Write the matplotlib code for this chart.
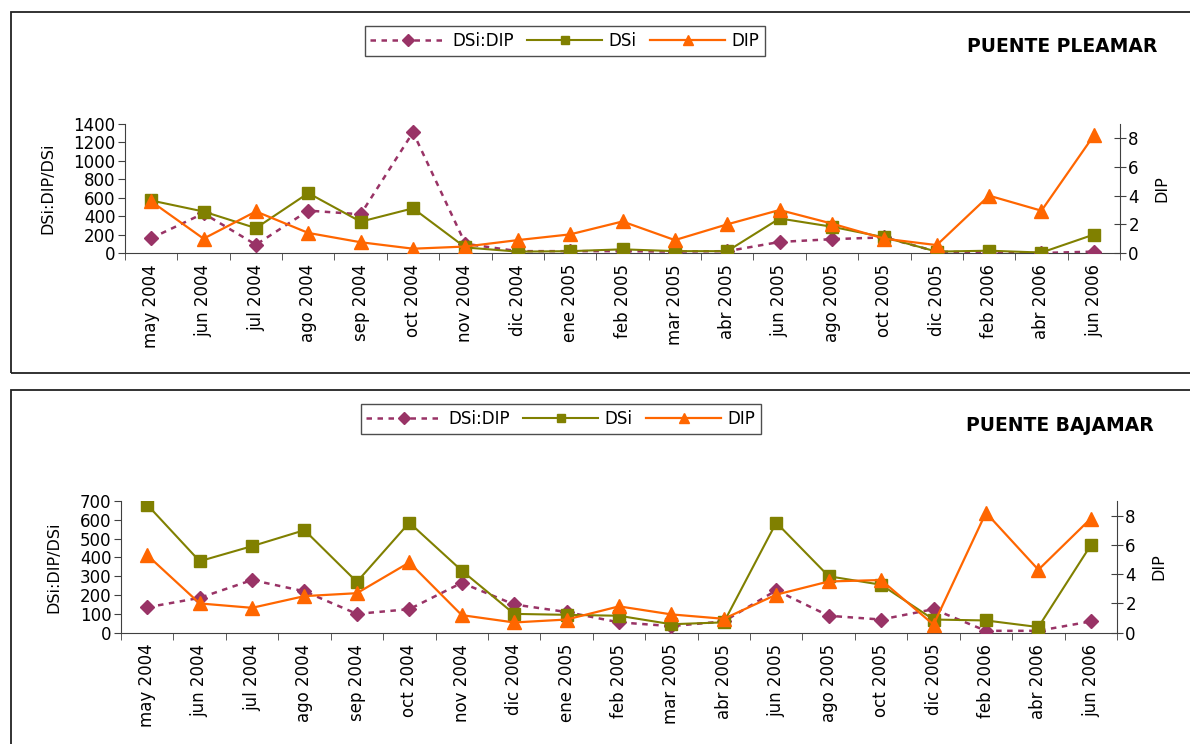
import matplotlib
matplotlib.use("Agg")
from matplotlib import pyplot as plt
from matplotlib.patches import Rectangle
from matplotlib.lines import Line2D
import numpy as np

months = ["may 2004", "jun 2004", "jul 2004", "ago 2004", "sep 2004", "oct 2004",
          "nov 2004", "dic 2004", "ene 2005", "feb 2005", "mar 2005", "abr 2005",
          "jun 2005", "ago 2005", "oct 2005", "dic 2005", "feb 2006", "abr 2006",
          "jun 2006"]

# Puente, pleamar
plea_ratio = [160, 430, 90, 460, 420, 1310, 100, 20, 20, 20, 15, 20,
              120, 150, 170, 15, 5, 0, 15]
plea_dsi = [570, 450, 270, 650, 340, 485, 60, 15, 20, 40, 20, 20,
            375, 285, 170, 15, 25, 5, 200]
plea_dip = [3.6, 1.0, 2.9, 1.4, 0.75, 0.3, 0.45, 0.9, 1.3, 2.2, 0.9, 2.0,
            3.0, 2.05, 1.0, 0.55, 4.0, 2.95, 8.2]

# Puente, bajamar
baja_ratio = [135, 185, 280, 220, 100, 125, 265, 150, 110, 55, 35, 60,
              225, 90, 70, 125, 10, 10, 60]
baja_dsi = [680, 380, 460, 545, 270, 585, 330, 100, 95, 90, 45, 55,
            585, 300, 255, 70, 65, 30, 465]
baja_dip = [5.3, 2.0, 1.7, 2.5, 2.7, 4.8, 1.2, 0.7, 0.9, 1.8, 1.25, 0.95,
            2.6, 3.5, 3.6, 0.55, 8.2, 4.3, 7.8]

PLUM = "#993366"
OLIVE = "#808000"
ORANGE = "#FF6600"
AXC = "#404040"

W, H = 1190, 744
fig = plt.figure(figsize=(W / 100, H / 100), dpi=100)


def fx(px):
    return px / W


def fy(py):
    return 1 - py / H


# panel frames
for top, bot in [(12, 373), (390, 760)]:
    fig.patches.append(Rectangle((fx(11), fy(bot)), fx(1200 - 11), fy(top) - fy(bot),
                                 transform=fig.transFigure, fill=False,
                                 edgecolor="#222222", linewidth=1.3))


def panel(box, ratio, dsi, dip, ymax, ystep, title, title_xy, legend_xy):
    left, right, top, bottom = box
    ax = fig.add_axes([fx(left), fy(bottom), fx(right - left), fy(top) - fy(bottom)])
    ax2 = ax.twinx()
    x = np.arange(len(months))

    ax.plot(x, ratio, color=PLUM, lw=1.8, dashes=(2.2, 2.2), marker="D",
            ms=7, mec=PLUM, zorder=3)
    ax.plot(x, dsi, color=OLIVE, lw=1.5, marker="s", ms=8, mec=OLIVE, zorder=4)
    ax2.plot(x, dip, color=ORANGE, lw=1.6, marker="^", ms=10, mec=ORANGE, zorder=5)

    ax.set_xlim(-0.5, len(months) - 0.5)
    ax.set_ylim(0, ymax)
    ax2.set_ylim(0, 9)
    ax.set_yticks(np.arange(0, ymax + 1, ystep))
    ax2.set_yticks([0, 2, 4, 6, 8])

    ax.set_xticks(x)
    ax.set_xticklabels(months, rotation=90, fontsize=12)
    ax.set_xticks(np.arange(-0.5, len(months)), minor=True)
    ax.tick_params(axis="x", which="major", length=0, pad=8)
    ax.tick_params(axis="x", which="minor", length=5, color=AXC, direction="out")
    ax.tick_params(axis="y", length=5, color=AXC, labelsize=12, pad=2)
    ax2.tick_params(axis="y", length=8, color=AXC, labelsize=12, direction="inout", pad=2)

    for a in (ax, ax2):
        a.spines["top"].set_visible(False)
        for s in a.spines.values():
            s.set_color(AXC)
    ax.spines["right"].set_visible(False)
    ax2.spines["left"].set_visible(False)
    ax2.spines["bottom"].set_visible(False)

    ax.set_ylabel("DSi:DIP/DSi", fontsize=11.5, labelpad=13)
    ax2.set_ylabel("DIP", fontsize=11.5, labelpad=11)

    fig.text(fx(title_xy[0]), fy(title_xy[1]), title, fontsize=13.5,
             fontweight="bold", ha="center", va="center")

    handles = [Line2D([], [], color=PLUM, lw=1.8, dashes=(2.2, 2.2), marker="D", ms=6),
               Line2D([], [], color=OLIVE, lw=1.5, marker="s", ms=6),
               Line2D([], [], color=ORANGE, lw=1.6, marker="^", ms=7)]
    leg = fig.legend(handles, ["DSi:DIP", "DSi", "DIP"], ncol=3, loc="center",
                     bbox_to_anchor=(fx(legend_xy[0]), fy(legend_xy[1])),
                     bbox_transform=fig.transFigure, fontsize=12, frameon=True,
                     fancybox=False, edgecolor="#222222", handlelength=4.5,
                     handletextpad=0.4, columnspacing=0.8, borderpad=0.35)
    leg.get_frame().set_linewidth(1.0)
    return ax, ax2


panel((125, 1120, 124, 253), plea_ratio, plea_dsi, plea_dip, 1400, 200,
      "PUENTE PLEAMAR", (1062, 47), (565, 41))
panel((121, 1117, 501, 632.7), baja_ratio, baja_dsi, baja_dip, 700, 100,
      "PUENTE BAJAMAR", (1060, 425), (561, 419))

fig.savefig("out.png", dpi=100)
